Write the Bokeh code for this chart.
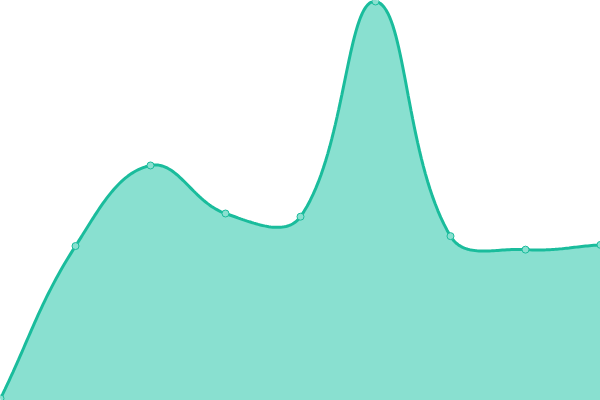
from bokeh.plotting import figure
from bokeh.embed import file_html
from bokeh.resources import INLINE
from bokeh.models import ColumnDataSource
import numpy as np

# Data
x_idx = [0, 1, 2, 3, 4, 5, 6, 7, 8]
values = [0.0, 38.4, 58.7, 46.6, 45.8, 100.0, 40.9, 37.5, 38.7]

LINE = "#1abc9c"
FILL = "#89e0d0"

W, H = 600, 400
X0, X1 = 0, 8
Y0, Y1 = -0.5, 100.25

p = figure(width=W, height=H, output_backend="svg", toolbar_location=None,
           x_range=(X0, X1), y_range=(Y0, Y1), min_border=0)
p.axis.visible = False
p.grid.visible = False
p.outline_line_color = None
p.background_fill_color = "white"
p.border_fill_color = "white"

# Chart.js-style tension spline (tension 0.4) computed in screen space
sx = W / (X1 - X0)
sy = H / (Y1 - Y0)
pts = np.array([[x * sx, v * sy] for x, v in zip(x_idx, values)])
n = len(pts)
t = 0.4
cprev = pts.copy()
cnext = pts.copy()
for i in range(n):
    prev = pts[i - 1] if i > 0 else pts[i]
    cur = pts[i]
    nxt = pts[i + 1] if i < n - 1 else pts[i]
    d01 = np.hypot(*(cur - prev))
    d12 = np.hypot(*(nxt - cur))
    tot = d01 + d12
    s01 = d01 / tot if tot else 0
    s12 = d12 / tot if tot else 0
    cprev[i] = cur - t * s01 * (nxt - prev)
    cnext[i] = cur + t * s12 * (nxt - prev)

xs, ys = [], []
tt = np.linspace(0, 1, 40)
for i in range(n - 1):
    P0, P1, P2, P3 = pts[i], cnext[i], cprev[i + 1], pts[i + 1]
    seg = ((1 - tt) ** 3)[:, None] * P0 + (3 * (1 - tt) ** 2 * tt)[:, None] * P1 \
        + (3 * (1 - tt) * tt ** 2)[:, None] * P2 + (tt ** 3)[:, None] * P3
    if i > 0:
        seg = seg[1:]
    xs.extend(seg[:, 0] / sx)
    ys.extend(seg[:, 1] / sy)

curve = ColumnDataSource(dict(x=xs, y=ys, y0=[Y0 - 1] * len(xs)))
p.varea(x="x", y1="y0", y2="y", source=curve, fill_color=FILL, fill_alpha=1)
p.line(x="x", y="y", source=curve, line_color=LINE, line_width=3)

pts_src = ColumnDataSource(dict(x=x_idx, y=values))
p.scatter(x="x", y="y", source=pts_src, size=7, fill_color=FILL,
          line_color=LINE, line_width=1)

open("out.html", "w").write(file_html(p, INLINE))
